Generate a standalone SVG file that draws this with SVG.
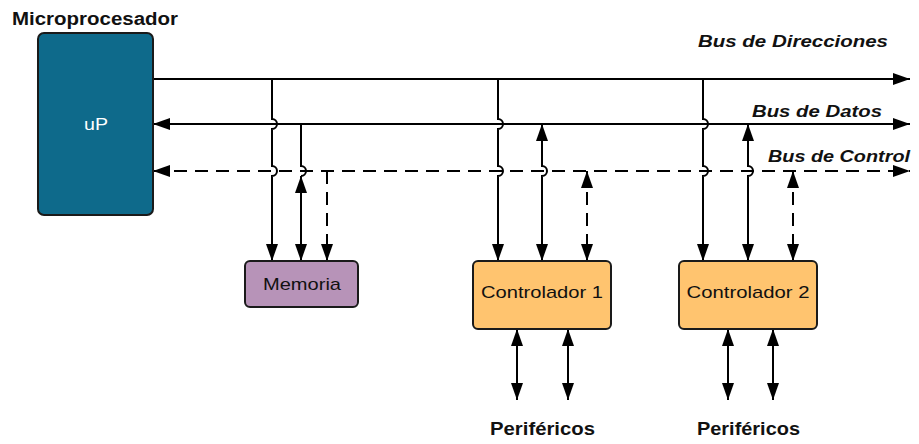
<svg xmlns="http://www.w3.org/2000/svg" width="919" height="444" viewBox="0 0 919 444">
<style>
.box{stroke:#1a1a1a;stroke-width:2}
.ln{fill:none;stroke:#000;stroke-width:2}
.ds{stroke-dasharray:13 8}
.t{font-family:"Liberation Sans",Arial,sans-serif;font-size:17px;fill:#111}
.b{font-weight:bold;font-size:18px}
.bi{font-weight:bold;font-style:italic}
</style>
<defs>
<marker id="ah" viewBox="0 0 17 12" refX="17" refY="6" markerWidth="17" markerHeight="12" markerUnits="userSpaceOnUse" orient="auto-start-reverse"><path d="M0,0 L17,6 L0,12 Z" fill="#000"/></marker>
</defs>
<rect width="919" height="444" fill="#fff"/>
<text class="t b" x="12" y="25" textLength="166" lengthAdjust="spacingAndGlyphs">Microprocesador</text>
<text class="t bi" x="698" y="47" textLength="190" lengthAdjust="spacingAndGlyphs">Bus de Direcciones</text>
<text class="t bi" x="752" y="117" textLength="130" lengthAdjust="spacingAndGlyphs">Bus de Datos</text>
<text class="t bi" x="768" y="162" textLength="142" lengthAdjust="spacingAndGlyphs">Bus de Control</text>
<text class="t b" x="490" y="435" textLength="105" lengthAdjust="spacingAndGlyphs">Periféricos</text>
<text class="t b" x="697" y="435" textLength="103" lengthAdjust="spacingAndGlyphs">Periféricos</text>
<g id="connectors">
<path class="ln" d="M153,79 H910" marker-end="url(#ah)"/>
<path class="ln" d="M153,124 H910" marker-start="url(#ah)" marker-end="url(#ah)"/>
<path class="ln ds" d="M153,171 H910" marker-start="url(#ah)" marker-end="url(#ah)"/>
<!-- Memoria -->
<path class="ln" d="M272,79 V119 a5,5 0 0 1 0,10 V166 a5,5 0 0 1 0,10 V261" marker-end="url(#ah)"/>
<path class="ln" d="M301,124 V166 a5,5 0 0 1 0,10"/>
<path class="ln" d="M301,176 V261" marker-start="url(#ah)" marker-end="url(#ah)"/>
<path class="ln ds" d="M327,171 V261" marker-end="url(#ah)"/>
<!-- Controlador 1 -->
<path class="ln" d="M498,79 V119 a5,5 0 0 1 0,10 V166 a5,5 0 0 1 0,10 V261" marker-end="url(#ah)"/>
<path class="ln" d="M542,124 V166 a5,5 0 0 1 0,10 V261" marker-start="url(#ah)" marker-end="url(#ah)"/>
<path class="ln ds" d="M587,171 V261" marker-start="url(#ah)" marker-end="url(#ah)"/>
<!-- Controlador 2 -->
<path class="ln" d="M703,79 V119 a5,5 0 0 1 0,10 V166 a5,5 0 0 1 0,10 V261" marker-end="url(#ah)"/>
<path class="ln" d="M748,124 V166 a5,5 0 0 1 0,10 V261" marker-start="url(#ah)" marker-end="url(#ah)"/>
<path class="ln ds" d="M793,171 V261" marker-start="url(#ah)" marker-end="url(#ah)"/>
<!-- Periféricos -->
<path class="ln" d="M517,329 V400" marker-start="url(#ah)" marker-end="url(#ah)"/>
<path class="ln" d="M568,329 V400" marker-start="url(#ah)" marker-end="url(#ah)"/>
<path class="ln" d="M728,329 V400" marker-start="url(#ah)" marker-end="url(#ah)"/>
<path class="ln" d="M773,329 V400" marker-start="url(#ah)" marker-end="url(#ah)"/>
</g>
<g id="up">
<rect class="box" x="38" y="33" width="115" height="182" rx="6" fill="#0e6a8b"/>
<text class="t" x="96" y="130" text-anchor="middle" style="fill:#fff" textLength="24" lengthAdjust="spacingAndGlyphs">uP</text>
</g>
<g id="memoria">
<rect class="box" x="245" y="261" width="113" height="46" rx="5" fill="#b793b8"/>
<text class="t" x="302" y="290" text-anchor="middle" textLength="78" lengthAdjust="spacingAndGlyphs">Memoria</text>
</g>
<g id="controlador1">
<rect class="box" x="473" y="261" width="138" height="68" rx="5" fill="#ffc46f"/>
<text class="t" x="542" y="298" text-anchor="middle" textLength="122" lengthAdjust="spacingAndGlyphs">Controlador 1</text>
</g>
<g id="controlador2">
<rect class="box" x="679" y="261" width="138" height="68" rx="5" fill="#ffc46f"/>
<text class="t" x="748" y="298" text-anchor="middle" textLength="123" lengthAdjust="spacingAndGlyphs">Controlador 2</text>
</g>
</svg>
